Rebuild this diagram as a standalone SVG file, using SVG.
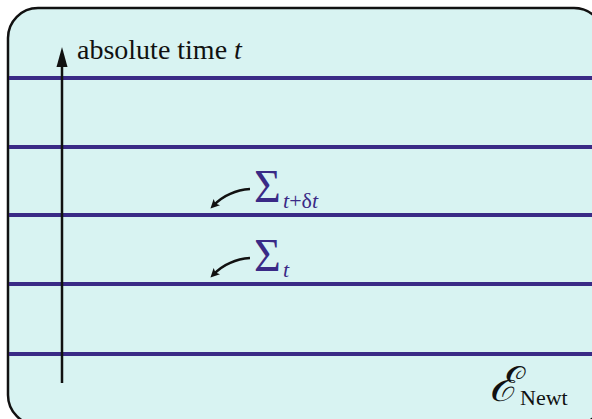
<svg xmlns="http://www.w3.org/2000/svg" width="592" height="419" viewBox="0 0 592 419">
<defs>
<style>
.leaf{stroke:#3a2a86;stroke-width:4}
text{font-family:"Liberation Serif","Times New Roman",serif}
.lbl{fill:#111}
.sig{fill:#3a2a86}
.ptr{fill:none;stroke:#111;stroke-width:2.5}
</style>
<marker id="ah" markerWidth="9" markerHeight="9" refX="4" refY="4.5" orient="auto" markerUnits="userSpaceOnUse" viewBox="0 0 9 9"><path d="M0,0 L9,4.5 L0,9 L2,4.5 z" fill="#111"/></marker>
</defs>
<g id="spacetime">
<rect x="8" y="8" width="596" height="417" rx="30" fill="#d8f3f2" stroke="#111" stroke-width="2.5"/>
</g>
<g id="leaves">
<line class="leaf" x1="9" y1="78" x2="592" y2="78"/>
<line class="leaf" x1="9" y1="147" x2="592" y2="147"/>
<line class="leaf" x1="9" y1="215" x2="592" y2="215"/>
<line class="leaf" x1="9" y1="284" x2="592" y2="284"/>
<line class="leaf" x1="9" y1="354" x2="592" y2="354"/>
</g>
<g id="connectors">
<line x1="62" y1="383" x2="62" y2="62" stroke="#111" stroke-width="2.5"/>
<path d="M62,47 L56.5,67 L67.5,67 z" fill="#111"/>
<path class="ptr" d="M250,189 C236,190 224,195 214,205" marker-end="url(#ah)"/>
<path class="ptr" d="M250,258 C236,259 224,264 214,274" marker-end="url(#ah)"/>
</g>
<g id="time-label">
<text class="lbl" x="77" y="59" font-size="28">absolute time <tspan font-style="italic">t</tspan></text>
</g>
<g id="sigma-tdt">
<text class="sig" x="254" y="202" font-size="46">Σ</text>
<text class="sig" x="283" y="208" font-size="22" font-style="italic">t<tspan font-style="normal">+δ</tspan>t</text>
</g>
<g id="sigma-t">
<text class="sig" x="254" y="271" font-size="46">Σ</text>
<text class="sig" x="283" y="277" font-size="22" font-style="italic">t</text>
</g>
<g id="enewt">
<text class="lbl" x="489" y="401" font-size="48" font-style="italic" style="font-family:'DejaVu Serif',serif">ℰ</text>
<text class="lbl" x="520" y="405" font-size="22">Newt</text>
</g>
</svg>
